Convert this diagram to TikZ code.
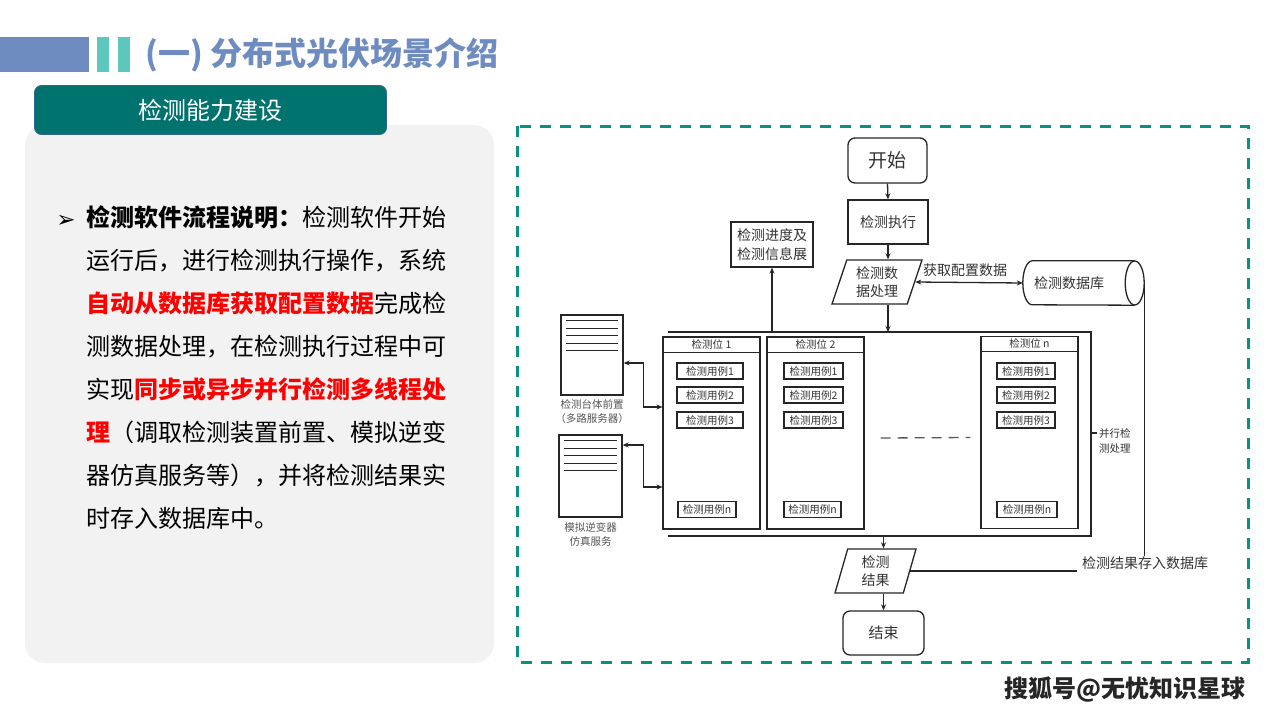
\documentclass[tikz,border=0pt]{standalone}
\usepackage{fontspec}
\setmainfont{Noto Sans CJK SC}
\newfontfamily\symfont{DejaVu Sans}
\usetikzlibrary{arrows.meta,shapes.geometric,calc}
\definecolor{titleblue}{HTML}{6F8CC1}
\definecolor{barteal}{HTML}{5DC7BE}
\definecolor{tabteal}{HTML}{00736E}
\definecolor{panelgray}{HTML}{F2F2F2}
\definecolor{dashteal}{HTML}{0A8F82}
\definecolor{ink}{HTML}{262626}
\definecolor{txt}{HTML}{333333}
\definecolor{lbl}{HTML}{555555}
\definecolor{hired}{HTML}{FF0000}
\tikzset{
  fsl/.style n args={2}{font=\fontsize{#1}{#2}\selectfont},
  fline/.style={draw=ink, line width=1.3pt},
  arr/.style={fline, -{Stealth[length=6pt,width=5pt]}},
  darr/.style={fline, {Stealth[length=6pt,width=5pt]}-{Stealth[length=6pt,width=5pt]}},
  fbox/.style={fline, rectangle, inner sep=0pt, text=txt, align=center},
  rbox/.style={fbox, rounded corners=7pt},
  para/.style={fline, trapezium, trapezium stretches body, inner sep=0pt, text=txt, align=center, fsl={14}{18}},
  station/.style={draw=ink, line width=1.1pt, minimum width=97pt, minimum height=192pt, inner sep=0pt},
  case/.style={draw=ink, line width=1.1pt, minimum height=16pt, inner sep=0pt, text=txt, fsl={10.5}{10.5}},
  sthead/.style={text=txt, inner sep=0pt, fsl={10.5}{10.5}},
  server/.style={draw=ink, line width=1.3pt, inner sep=0pt, path picture={
      \foreach \k in {0,...,4}
        \draw[ink, line width=0.9pt] ($(path picture bounding box.north west)+(5,5.5+7.5*\k)$) -- ($(path picture bounding box.north east)+(-5,5.5+7.5*\k)$);}},
  srvlbl/.style={text=lbl, inner sep=0pt, align=center, fsl={10.5}{14}},
  body/.style={anchor=base west, inner sep=0pt, text=black, fsl={24}{24}},
}
\begin{document}
\begin{tikzpicture}[x=1pt,y=-1pt]
\useasboundingbox (0,0) rectangle (1280,720);
\fill[white] (0,0) rectangle (1280,720);

% ---- header
\fill[titleblue] (0,37) rectangle (89,72);
\fill[barteal] (97,37) rectangle (109,72);
\fill[barteal] (118,37) rectangle (130,72);
\node[anchor=west, inner sep=0pt, text=titleblue, font=\fontsize{32}{32}\selectfont\bfseries] (title) at (145,55) {(一) 分布式光伏场景介绍};

% ---- left panel
\fill[panelgray, rounded corners=20pt] (25,125) rectangle (494,663);
\node[fill=tabteal, draw=tabteal!70!blue!60!gray, line width=0.8pt, rounded corners=7pt, minimum width=352pt, minimum height=49pt, inner sep=0pt, text=white, fsl={24}{24}] (tab) at (210.5,110) {检测能力建设};

\node[anchor=base, inner sep=0pt, font=\symfont\fontsize{23}{23}\selectfont] (bul) at (66,227) {➢};
\node[body] (l1) at (86,226.5) {{\bfseries 检测软件流程说明：}检测软件开始};
\node[body] (l2) at (86,269.5) {运行后，进行检测执行操作，系统};
\node[body] (l3) at (86,312.5) {{\bfseries\color{hired}自动从数据库获取配置数据}完成检};
\node[body] (l4) at (86,355.5) {测数据处理，在检测执行过程中可};
\node[body] (l5) at (86,398.5) {实现{\bfseries\color{hired}同步或异步并行检测多线程处}};
\node[body] (l6) at (86,441.5) {{\bfseries\color{hired}理}（调取检测装置前置、模拟逆变};
\node[body] (l7) at (86,484.5) {器仿真服务等），并将检测结果实};
\node[body] (l8) at (86,527.5) {时存入数据库中。};

% ---- dashed frame
\draw[dashteal, line width=3pt, dash pattern=on 11pt off 9pt] (517,126) rectangle (1248,662);

% ---- flowchart main column
\node[rbox, minimum width=79pt, minimum height=45pt, fsl={19}{19}] (start) at (887.5,160.5) {开始};
\node[fbox, minimum width=80pt, minimum height=44pt, fsl={14}{14}] (exec) at (888,222) {检测执行};
\node[para, trapezium left angle=64.5, trapezium right angle=115.5, minimum width=90pt, minimum height=44pt] (pp) at (877,282) {检测数\\据处理};
\node[fbox, minimum width=82pt, minimum height=45pt, fsl={14}{19}] (info) at (772,244.5) {检测进度及\\检测信息展};
% database (horizontal cylinder)
\node[minimum width=121pt, minimum height=44pt, inner sep=0pt, text=txt, fsl={14}{14}] (db) at (1083.5,283) {检测数据库\hspace*{29pt}};
\draw[fline] ($(db.north east)+(-9.5,0)$) -- ($(db.north west)+(9.5,0)$)
   arc[start angle=90, end angle=270, x radius=9.5pt, y radius=22pt] -- ($(db.south east)+(-9.5,0)$);
\draw[fline] ($(db.east)+(-9.5,0)$) ellipse [x radius=9.5pt, y radius=22pt];
\node[inner sep=0pt, text=txt, fsl={14}{14}] (getcfg) at (965,270) {获取配置数据};

\coordinate (bt) at (668,332);
\coordinate (btr) at (1085,332);
\coordinate (bb) at (668,536);
\coordinate (bbr) at (1085,536);

\draw[arr] (start.south) -- (exec.north);
\draw[arr] (exec.south) -- (exec.south |- pp.north);
\draw[arr] (exec.south |- pp.south) -- (exec.south |- bt);
\draw[darr] (pp.east) -- (db.west);
\draw[arr] (info.south |- bt) -- (info.south);

% ---- buses and bracket
\draw[fline, line width=1.2pt] (bt) -- (btr);
\draw[fline, line width=1.2pt] (bb) -- (bbr);
\draw[fline, line width=1.1pt] (1085,332) -- (1091,332) -- (1091,536) -- (1085,536);
\draw[fline, line width=1.1pt] (1091,433) -- (1097,433);
\node[anchor=west, inner sep=0pt, text=txt, align=left, fsl={10.5}{15}] (par) at (1099,440.5) {并行检\\测处理};

% ---- stations
\node[station] (w1) at (711.5,433) {};
\node[station] (w2) at (815.5,433) {};
\node[station] (wn) at (1029.5,432.5) {};
\foreach \w/\t in {w1/检测位 1, w2/检测位 2, wn/检测位 n}{
  \draw[ink, line width=1pt] ($(\w.north west)+(0,16)$) -- ($(\w.north east)+(0,16)$);
  \node[sthead] (\w h) at ($(\w.north)+(0,8)$) {\t};
}
\node[case, minimum width=66pt] (c11) at (710,371) {检测用例1};
\node[case, minimum width=66pt] (c12) at (710,395) {检测用例2};
\node[case, minimum width=66pt] (c13) at (710,420) {检测用例3};
\node[case, minimum width=58pt] (c1n) at (707,509.5) {检测用例n};
\node[case, minimum width=59pt] (c21) at (813.5,371) {检测用例1};
\node[case, minimum width=59pt] (c22) at (813.5,395) {检测用例2};
\node[case, minimum width=59pt] (c23) at (813.5,420) {检测用例3};
\node[case, minimum width=57pt] (c2n) at (812.5,509.5) {检测用例n};
\node[case, minimum width=58pt] (cn1) at (1026,371) {检测用例1};
\node[case, minimum width=58pt] (cn2) at (1026,395) {检测用例2};
\node[case, minimum width=58pt] (cn3) at (1026,420) {检测用例3};
\node[case, minimum width=60pt] (cnn) at (1027,509.5) {检测用例n};
\draw[gray!70!black, line width=1.3pt, dash pattern=on 10pt off 7pt] ($(w2.east)+(16,5)$) -- ($(wn.west)+(-10,5)$);

% ---- servers
\node[server, minimum width=62pt, minimum height=80pt] (s1) at (592,355) {};
\node[server, minimum width=63pt, minimum height=82pt] (s2) at (590.5,476) {};
\node[srvlbl, anchor=north] (s1l) at ($(s1.south)+(0,4)$) {检测台体前置\\（多路服务器）};
\node[srvlbl, anchor=north] (s2l) at ($(s2.south)+(0,5)$) {模拟逆变器\\仿真服务};
\draw[darr] ($(s1.east)+(0,8)$) -- ++(20,0) |- ($(w1.west)+(0,-26)$);
\draw[darr] ($(s2.east)+(0,-31)$) -- ++(21,0) |- ($(w1.west)+(0,54)$);

% ---- result and end
\node[para, trapezium left angle=67.75, trapezium right angle=112.25, minimum width=81pt, minimum height=44pt] (res) at (875.5,571) {检测\\结果};
\node[rbox, minimum width=81pt, minimum height=44pt, fsl={15}{15}] (endn) at (883.5,633) {结束};
\node[inner sep=0pt, text=txt, fsl={14}{14}] (store) at (1145,563) {检测结果存入数据库};
\draw[arr] (endn.north |- bb) -- (endn.north |- res.north);
\draw[arr] (endn.north |- res.south) -- (endn.north);
\draw[fline, line width=1.1pt] (res.east) -- ($(store.west |- res.east)+(-5,0)$);
\draw[fline, line width=1.1pt] (db.east) -- (db.east |- store.north);

% ---- watermark
\node[inner sep=0pt, text=black!85, font=\fontsize{24}{24}\selectfont\bfseries] (wm) at (1125,690) {搜狐号@无忧知识星球};
\end{tikzpicture}
\end{document}
